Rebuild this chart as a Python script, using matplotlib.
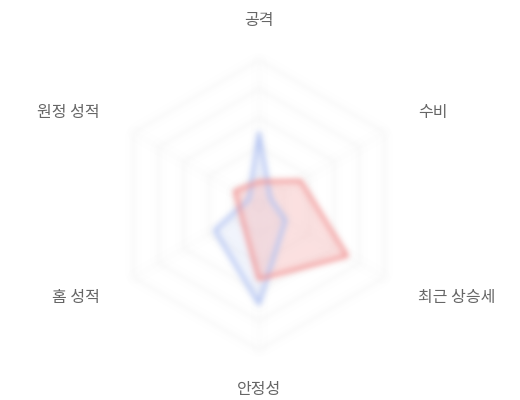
import numpy as np
import matplotlib
matplotlib.use('Agg')
import matplotlib.pyplot as plt

plt.rcParams['font.family'] = ['Noto Sans CJK KR', 'DejaVu Sans']

# radar axes, clockwise from top
categories = ['공격', '수비', '최근 상승세', '안정성', '홈 성적', '원정 성적']
team_blue = [49, 9, 21, 68, 35, 8]
team_red = [16, 33, 70, 51, 14, 19]
max_value = 100
ring_levels = [20, 40, 60, 80, 100]

n = len(categories)
angles = np.linspace(0, 2 * np.pi, n, endpoint=False)


def gauss_blur(sigma):
    # soft look of the chart body, done as an agg filter
    k = np.arange(-3 * sigma, 3 * sigma + 1)
    kern = np.exp(-k ** 2 / (2.0 * sigma ** 2))
    kern /= kern.sum()
    pad = len(k)

    def conv(img):
        for axis in (0, 1):
            img = np.apply_along_axis(lambda m: np.convolve(m, kern, mode='same'), axis, img)
        return img

    def _filter(img, dpi):
        img = np.pad(img, ((pad, pad), (pad, pad), (0, 0)))
        alpha = img[:, :, 3:4]
        rgb = conv(img[:, :, :3] * alpha)
        alpha = conv(alpha)
        rgb = np.where(alpha > 1e-4, rgb / np.maximum(alpha, 1e-4), 0)
        out = np.concatenate([np.clip(rgb, 0, 1), np.clip(alpha, 0, 1)], axis=2)
        return out, -pad, -pad
    return _filter


fig = plt.figure(figsize=(5.2, 4.0), dpi=100)
# center ~(259,205) px, radius ~145 px
cx, cy, r = 259 / 520, 1 - 205 / 400, 145
ax = fig.add_axes([cx - r / 520, cy - r / 400, 2 * r / 520, 2 * r / 400], projection='polar')
ax.set_theta_offset(np.pi / 2)
ax.set_theta_direction(-1)
ax.set_ylim(0, max_value)
ax.set_xticks([])
ax.set_yticks([])
ax.grid(False)
ax.spines['polar'].set_visible(False)
ax.patch.set_alpha(0)

blur = gauss_blur(3)

# hexagon grid
closed = np.append(angles, angles[0])
for lvl in ring_levels:
    ln, = ax.plot(closed, [lvl] * (n + 1), color='#ededed', lw=1.0, zorder=1)
    ln.set_agg_filter(blur)
for a in angles:
    ln, = ax.plot([a, a], [0, max_value], color='#f4f4f4', lw=0.8, zorder=1)
    ln.set_agg_filter(blur)


def draw_series(values, edge, face, face_alpha):
    vals = np.append(values, values[0])
    patches = ax.fill(closed, vals, color=face, alpha=face_alpha, zorder=2, lw=0)
    ln, = ax.plot(closed, vals, color=edge, lw=2.6, zorder=3, solid_joinstyle='round')
    for art in patches + [ln]:
        art.set_agg_filter(blur)


draw_series(team_blue, '#b2c3f3', '#d2ddf8', 0.3)
draw_series(team_red, '#f29494', '#f6b3b3', 0.4)

# labels
label_r = 1.27 * max_value
for a, name in zip(angles, categories):
    s = np.sin(a)
    if abs(s) < 0.1:
        ha = 'center'
    elif s > 0:
        ha = 'left'
    else:
        ha = 'right'
    ax.text(a, label_r, name, ha=ha, va='center', fontsize=11.5, color='#666666',
            clip_on=False)

fig.savefig('out.png', dpi=100)
